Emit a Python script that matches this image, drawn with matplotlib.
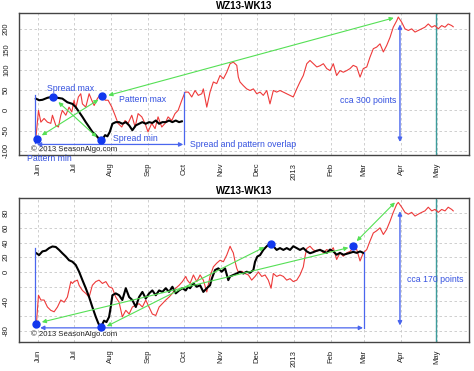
import numpy as np
import matplotlib
matplotlib.use("Agg")
import matplotlib.pyplot as plt
import matplotlib.dates as mdates
from matplotlib.ticker import FixedLocator
import datetime as dt

plt.rcParams['font.family'] = ['Liberation Sans', 'DejaVu Sans']

TITLE = "WZ13-WK13"
BASE = mdates.date2num(dt.datetime(2012, 6, 1))  # day 0 = 2012-06-01

# ---------------- top panel data (days since 2012-06-01, values) ----------------
top_red_days = [-1.9, 0.3, 2.3, 5, 7.8, 10.6, 12, 14.8, 17, 19, 20.3, 23.2, 25.9, 28.2, 30.1, 31.5,
                33.7, 35.7, 37.1, 39.9, 42.7, 44.9, 46.9, 49.6, 52.5, 53.8, 56.1, 58.6, 61.7, 64.4,
                66.9, 70, 72.8, 75.3, 78.4, 81.2, 83.7, 86.8, 89.5, 92, 95.1, 97.9, 100.4, 103.5,
                106.3, 108.8, 111.9, 114.6, 117.2, 120.3, 123, 125.8, 128.6, 131.4, 134.1, 137,
                138.3, 141.2, 143.9, 146.7, 149.5, 152.3, 155.1, 157.9, 160.7, 163.4, 166.3, 167.6,
                169, 171.8, 174.6, 177.4, 180.2, 183, 185.8, 188.5, 191.4, 194.1, 196.9, 199.7,
                202.5, 205.3, 208.1, 210.9, 213.6, 216.5, 219.2, 222, 224.9, 227.6, 230.4, 233.3,
                236, 238.8, 241.6, 244.4, 247.1, 249.9, 252.7, 255.5, 258.3, 261.1, 263.8, 266.7,
                269.5, 272.2, 275.1, 277.8, 280.6, 283.4, 286.2, 289, 291.8, 294.6, 297.3, 300.2,
                301.5, 304.4, 307.1, 309.9, 312.7, 315.5, 318.2, 321.1, 323.8, 326.6, 329.5, 332.2,
                335, 337.8, 340.6, 343.3, 346.2, 347.5]
top_red_vals = [-70, 0, -29, -20, -29, -32, -12, -37, -41, -12, 0, -12, 8, -4, 25, 5,
                33, 41, 16, 8, 41, 25, 12, 29, 41, 37, 25, 25, 8, -12,
                -32, -41, -25, -32, -12, -41, -8, -16, -32, -53, -32, -45, -16, -41,
                -32, -16, -25, -8, 0, 25, 45, 45, 33, 49, 37, 41,
                53, 8, 45, 70, 66, 86, 78, 94, 115, 119, 111, 82,
                70, 61, 53, 49, 53, 41, 45, 37, 49, 16, 49, 45,
                49, 45, 41, 37, 33, 53, 70, 86, 115, 123, 115, 107,
                110, 115, 103, 98, 115, 86, 98, 94, 98, 103, 111, 107,
                82, 103, 107, 131, 152, 156, 164, 144, 160, 180, 205, 221,
                230, 217, 201, 197, 201, 193, 197, 201, 205, 213, 205, 209,
                201, 209, 205, 213, 209, 206]

top_black_days = [-1.9, 0.8, 3.6, 7.8, 12.8, 16.2, 20.3, 24.5, 28.7, 31.5, 34.3, 37.1, 39.9,
                  42.7, 45.4, 48.3, 51, 53.3, 56.1, 58, 60, 62.2, 65, 67.8, 70.5, 73.4, 76.2,
                  78.9, 81.8, 84.5, 87.3, 90.1, 92.9, 95.6, 98.5, 101.3, 104, 106.9, 109.6,
                  112.4, 115.2, 118, 120.3]
top_black_vals = [29, 25, 26, 31, 34, 31, 29, 20, 16, 8, -4, -16, -29,
                  -41, -53, -61, -70, -74, -61, -64, -53, -33, -29, -29, -33, -29, -37,
                  -49, -37, -33, -29, -33, -29, -31, -25, -33, -29, -29, -25,
                  -29, -25, -29, -27]

# marked points: pattern min, spread max, pattern max, spread min
top_dot_days = [-1.1, 12.8, 53.8, 52.7]
top_dot_vals = [-71, 33, 36, -74]

# ---------------- bottom panel data ----------------
bot_red_days = [-1.4, 0.3, 2.3, 5, 7.8, 10.6, 13.4, 16.2, 19, 21.8, 24.5, 27.4, 28.7, 30.1, 32.9,
                34.3, 37.1, 39.9, 42.7, 45.4, 48.3, 51, 53.8, 56.7, 59.4, 62.2, 65, 67.8, 70.5,
                73.4, 76.2, 78.9, 81.8, 84.5, 87.3, 90.1, 92.9, 95.6, 98.5, 101.3, 104, 106.9,
                109.6, 112.4, 115.2, 118, 120.8, 123.6, 124.9, 127.2, 130, 132.8, 135.6, 138.3,
                141.2, 143.9, 146.7, 149.5, 152.3, 155.1, 157.9, 160.7, 162.1, 163.4, 164.9,
                166.3, 167.6, 170.5, 173.2, 176, 178.8, 181.6, 184.4, 187.2, 190, 192.7, 195,
                196.9, 199.7, 202.5, 205.3, 208.1, 210.9, 213.6, 216.5, 219.2, 222, 223.4, 224.9,
                227.6, 230.4, 233.3, 236, 238.8, 241.6, 244.4, 247.1, 249.9, 252.7, 255.5, 258.3,
                261.1, 263.8, 266.7, 269.5, 272.2, 275.1, 277.8, 280.6, 283.4, 286.2, 289, 291.8,
                294.6, 297.3, 300.2, 301.5, 304.4, 307.1, 309.9, 312.7, 315.5, 318.2, 321.1,
                323.8, 326.6, 329.5, 332.2, 335, 337.8, 340.6, 343.3, 346.2, 347.5]
bot_red_vals = [-70, -31.5, -38, -38, -47.5, -52, -54, -47.5, -38, -41, -34, -13, -15.5, -13, -11,
                -18, -25, -29, -34, -18, -13, -11, -15.5, -13, -20, -22, -34, -41, -61,
                -52, -57, -47.5, -45, -43, -47.5, -38, -47.5, -57, -59, -47.5, -43, -38,
                -34, -29, -22, -18, -13, -6, -11, -15.5, -4, -13, -4, -11,
                -27, -6, 7, 12, 16, 14, 23, 35, 30, 26, 14,
                5, 0, 1, -2, -4, -11, -6, 0, -6, -4, -11, -22,
                -2, -6, -4, -6, -11, -9, -13, -11, -4, 7, 21, 32,
                35, 30, 28, 31, 26, 30.5, 28, 33, 17, 26, 21.5, 26,
                28, 33, 30.5, 15, 26, 30.5, 42, 53, 56, 60, 51, 58,
                69, 81, 92, 94.5, 88, 81, 78.5, 81, 76, 78.5, 81,
                83, 88, 83, 85, 81, 85, 83, 88, 85, 83]

bot_black_days = [-1.4, 0.8, 3.6, 6.4, 9.2, 12, 14.8, 17.6, 20.3, 23.2, 25.9, 28.7, 31.5, 34.3,
                  37.1, 39.9, 42.7, 45.4, 48.3, 50.5, 52.5, 55.2, 57.2, 59.4, 60.8, 62.2, 65,
                  67.8, 70.5, 73.4, 76.2, 78.9, 81.8, 84.5, 87.3, 90.1, 92.9, 95.6, 98.5, 101.3,
                  104, 106.9, 109.6, 112.4, 115.2, 118, 120.8, 123.6, 125.5, 127.2, 130, 132.8,
                  135.6, 138.3, 141.2, 143.9, 145.4, 148.1, 150.9, 153.7, 156.5, 159.2, 160.7,
                  163.4, 166.3, 169, 171.8, 174.6, 177.4, 180.2, 181.6, 183.5, 185.8, 188.5,
                  191.4, 194.1, 196.9, 199.7, 202.5, 205.3, 208.1, 210.9, 213.6, 216.5, 219.2,
                  222, 224.9, 227.6, 230.4, 233.3, 236, 238.8, 241.6, 244.4, 247.1, 249.9, 252.7,
                  255.5, 258.3, 261.1, 263.8, 266.7, 269.5, 272.2]
bot_black_vals = [25.5, 23, 28, 29, 32.5, 34.7, 34, 30, 25.5, 21, 16, 14, 9.6, 0.4,
                  -11, -22, -34, -47.5, -61, -70, -75, -66, -68, -61, -47.5, -31.5, -29,
                  -31.5, -38, -22, -34, -38, -47.5, -34, -27, -36, -29, -25, -31.5, -25,
                  -27, -22, -27, -20, -29, -25, -22, -25, -20, -22, -15.5, -20,
                  -18, -27, -22, -18, -9, 2.7, 5, 0.4, 5, -11, -6,
                  -4, -2, 0.4, -2, 0.4, -1, 2.7, 14, 21, 23, 30,
                  35, 39, 35, 30, 32.5, 30, 32.5, 30, 35, 32.5, 30,
                  32.5, 28, 25.5, 27, 29, 30, 28, 26, 30.5, 28, 23.5, 26,
                  23.5, 24.7, 26, 27.4, 26, 28, 26]

# marked points: pattern min, spread min, spread max (Dec), pattern point (Mar)
bot_dot_days = [-1.7, 52.5, 195, 264]
bot_dot_vals = [-71, -75, 38.4, 35]

month_ticks = ['2012-06-01', '2012-07-01', '2012-08-01', '2012-09-01', '2012-10-01', '2012-11-01',
               '2012-12-01', '2013-01-01', '2013-02-01', '2013-03-01', '2013-04-01', '2013-05-01']
month_labels = ['Jun', 'Jul', 'Aug', 'Sep', 'Oct', 'Nov', 'Dec', '2013', 'Feb', 'Mar', 'Apr', 'May']

top_yticks = [-100, -50, 0, 50, 100, 150, 200]
top_ylabels = ['-100', '-50', '0', '50', '100', '150', '200']
bot_yticks = [-80, -60, -40, -20, 0, 20, 40, 60, 80]
bot_ylabels = ['-80', '', '-40', '', '0', '20', '40', '60', '80']

# ---------------- styling ----------------
RED = '#ee3a3a'
BLUE_L = '#4a66ee'
BLUE_T = '#3552e0'
DOT = '#1238ee'
GREEN = '#55e055'
TEAL = '#3c9c9c'
FS = 6.3
TICK_FS = 5.5


def d(x):
    return BASE + np.asarray(x, dtype=float)


fig = plt.figure(figsize=(4.74, 3.71), dpi=100)
fig.patch.set_facecolor('white')
ax1 = fig.add_axes([19 / 474, 1 - 155 / 371, 450 / 474, 142 / 371])
ax2 = fig.add_axes([19 / 474, 1 - 342 / 371, 450 / 474, 144 / 371])

tick_pos = [mdates.date2num(dt.datetime.strptime(s, '%Y-%m-%d')) for s in month_ticks]


def style(ax, yticks, ylabels, ylim):
    ax.set_xlim(d(-16), d(360.7))
    ax.set_ylim(*ylim)
    ax.xaxis.set_major_locator(FixedLocator(tick_pos))
    ax.set_xticklabels(month_labels)
    ax.set_yticks(yticks)
    ax.set_yticklabels(ylabels)
    ax.tick_params(axis='x', labelrotation=90, length=0, pad=5.5, labelsize=TICK_FS,
                   colors='#222222')
    ax.tick_params(axis='y', labelrotation=90, length=0, pad=6.5, labelsize=TICK_FS,
                   colors='#222222')
    for lab in ax.get_yticklabels():
        lab.set_va('center')
    ax.grid(True, color='#c8c8c8', linestyle=(0, (3, 3)), linewidth=0.6)
    ax.set_axisbelow(True)
    for s in ax.spines.values():
        s.set_color('#444444')
        s.set_linewidth(1.0)


def arrow(ax, a, b, color, lw=0.8, style='<|-|>', ms=6):
    ax.annotate('', xy=(d(b[0]), b[1]), xytext=(d(a[0]), a[1]),
                arrowprops=dict(arrowstyle=style, color=color, lw=lw, mutation_scale=ms,
                                shrinkA=0, shrinkB=0), zorder=4)


# ---------------- top panel ----------------
ax = ax1
style(ax, top_yticks, top_ylabels, (-110, 240))
ax.set_title(TITLE, fontsize=7, fontweight='bold', pad=3)
ax.axvline(d(333.3), color=TEAL, lw=1.0, zorder=2)
ax.plot(d(top_red_days), top_red_vals, color=RED, lw=0.8, zorder=3)
ax.plot(d(top_black_days), top_black_vals, color='black', lw=1.5, zorder=3)
ax.plot([d(-2.3), d(-2.3)], [39, -81], color=BLUE_L, lw=0.9, zorder=3)
ax.plot([d(122.2), d(122.2)], [-84, 45], color=BLUE_L, lw=0.9, zorder=3)
arrow(ax, (-1, -84), (121.5, -84), BLUE_L, lw=0.9)
arrow(ax, (3.1, -61.5), (50.5, 26.3), GREEN)
arrow(ax, (17, 20.4), (49.1, -65.7), GREEN)
arrow(ax, (58.8, 37), (297.7, 228), GREEN)
arrow(ax, (302.9, 212), (302.9, -78), BLUE_L, lw=1.0)
ax.plot(d(top_dot_days), top_dot_vals, 'o', color=DOT, ms=5, zorder=5)
ax.text(d(26.8), 54, 'Spread max', color=BLUE_T, fontsize=FS, ha='center', va='center')
ax.text(d(67.8), 27, 'Pattern max', color=BLUE_T, fontsize=FS, ha='left', va='center')
ax.text(d(62.8), -69, 'Spread min', color=BLUE_T, fontsize=FS, ha='left', va='center')
ax.text(d(-9.2), -118, 'Pattern min', color=BLUE_T, fontsize=FS, ha='left', va='center',
        clip_on=False, zorder=6)
ax.text(d(127.2), -84, 'Spread and pattern overlap', color=BLUE_T, fontsize=FS,
        ha='left', va='center')
ax.text(d(299.6), 24.6, 'cca 300 points', color=BLUE_T, fontsize=FS, ha='right', va='center')
ax.text(d(-5.9), -96, '\u00a9 2013 SeasonAlgo.com', color='#222222', fontsize=5.6,
        ha='left', va='center')

# ---------------- bottom panel ----------------
ax = ax2
style(ax, bot_yticks, bot_ylabels, (-95, 100.5))
ax.set_title(TITLE, fontsize=7, fontweight='bold', pad=3)
ax.axvline(d(333.3), color=TEAL, lw=1.0, zorder=2)
ax.plot(d(bot_red_days), bot_red_vals, color=RED, lw=0.8, zorder=3)
ax.plot(d(bot_black_days), bot_black_vals, color='black', lw=1.5, zorder=3)
ax.plot([d(-2.3), d(-2.3)], [32.5, -75], color=BLUE_L, lw=0.9, zorder=3)
ax.plot([d(273), d(273)], [-75.8, 27.8], color=BLUE_L, lw=0.9, zorder=3)
arrow(ax, (1.7, -75.8), (272, -75.8), BLUE_L, lw=0.9)
arrow(ax, (3.1, -68), (259.7, 33), GREEN)
arrow(ax, (57.5, -73.6), (189.4, 33.8), GREEN)
arrow(ax, (266.7, 42), (298.7, 94.5), GREEN)
arrow(ax, (302.9, 82.6), (302.9, -72.6), BLUE_L, lw=1.0)
ax.plot(d(bot_dot_days), bot_dot_vals, 'o', color=DOT, ms=5, zorder=5)
ax.text(d(308.8), -10, 'cca 170 points', color=BLUE_T, fontsize=FS, ha='left', va='center')
ax.text(d(-5.9), -85, '\u00a9 2013 SeasonAlgo.com', color='#222222', fontsize=5.6,
        ha='left', va='center')

fig.savefig('out.png', dpi=100, facecolor='white')
